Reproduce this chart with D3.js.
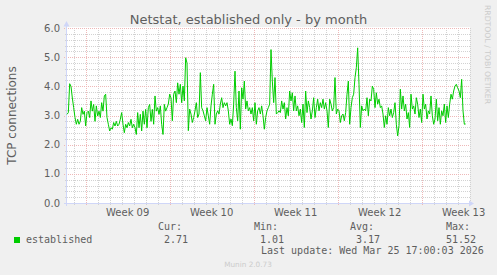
<!DOCTYPE html>
<html>
<head>
<meta charset="utf-8">
<script src="https://cdn.jsdelivr.net/npm/d3@7"></script>
<style>
  body { margin: 0; background: #f0f0f0; }
  svg { display: block; font-family: "DejaVu Sans", sans-serif; }
  .mono { font-family: "DejaVu Sans Mono", monospace; }
</style>
</head>
<body>
<script>
// ---- data (one sample every 160 min) ----
const established = [
  3.04, 3.10, 4.09, 4.00, 3.60, 3.27, 2.93, 2.70, 2.87, 2.70, 2.80, 3.27, 3.04, 3.15, 2.64, 3.10,
  3.15, 2.93, 3.50, 3.15, 3.38, 2.80, 3.33, 2.98, 3.15, 2.93, 3.44, 3.15, 3.67, 3.73, 2.93, 2.70,
  2.47, 2.58, 2.53, 2.76, 2.64, 2.80, 2.64, 2.70, 2.87, 3.10, 2.70, 2.41, 2.70, 2.58, 2.76, 2.64,
  2.87, 2.58, 2.70, 2.58, 2.35, 3.10, 2.58, 3.04, 2.47, 3.15, 2.70, 3.21, 2.58, 3.27, 3.38, 2.80,
  3.21, 2.70, 3.67, 3.15, 3.27, 3.04, 3.33, 2.70, 2.35, 3.38, 3.15, 3.27,
  3.39, 3.73, 3.60, 2.82, 3.73, 3.84, 3.44, 4.12, 3.73, 4.07, 3.44, 4.01, 3.50, 4.98, 4.80, 2.48,
  3.22, 3.05, 2.76, 2.93, 3.16, 3.44, 2.93, 3.05, 4.47, 3.27, 3.16, 2.99, 2.82, 3.27, 2.99, 2.70,
  3.33, 3.73, 4.07, 2.70, 3.05, 3.16, 3.05, 3.39, 3.61, 3.27, 3.44, 3.33, 3.44, 3.16, 2.70, 2.88,
  2.65, 3.39, 4.52, 3.27, 2.82, 3.84, 2.53, 3.95, 3.56, 4.18, 3.22, 3.50, 3.16, 3.27, 3.05, 3.27,
  2.82, 3.44, 2.70, 3.16, 3.27, 3.05, 3.33, 2.99, 2.53, 2.93, 3.16, 3.27,
  3.39, 5.26, 4.18, 3.44, 4.30, 3.05, 3.10, 3.16, 3.10, 3.50, 3.22, 3.44, 2.88, 3.27, 2.99, 3.84,
  3.50, 3.78, 3.16, 3.67, 3.16, 3.33, 2.99, 3.22, 2.76, 3.39, 2.59, 3.84, 3.10, 3.50, 3.27, 2.88,
  3.16, 3.61, 2.93, 3.27, 3.56, 3.16, 3.44, 3.27, 3.56, 3.22, 3.44, 3.16, 2.59, 3.56, 3.39, 3.16,
  3.27, 4.30, 3.05, 3.22, 3.16, 2.76, 2.99, 3.05, 2.82, 3.10, 3.73, 4.18, 2.70, 3.27, 3.61, 3.73,
  4.30, 4.64, 5.32, 4.07, 2.59, 3.33, 3.16, 3.22, 3.16, 3.61, 2.99,
  3.56, 3.50, 4.01, 3.90, 3.27, 3.78, 3.39, 3.56, 3.27, 3.33, 3.05, 2.59, 2.99, 2.70, 3.27, 2.99,
  3.22, 2.93, 3.10, 3.44, 2.70, 2.30, 2.65, 3.90, 3.22, 3.67, 3.16, 3.39, 2.88, 3.10, 2.59, 3.73,
  3.22, 3.33, 3.05, 3.61, 3.39, 2.93, 3.22, 2.76, 3.73, 3.22, 3.39, 2.88, 3.16, 3.05, 3.67, 2.99,
  2.70, 2.88, 3.56, 2.82, 3.27, 2.70, 3.16, 2.99, 3.39, 2.76, 3.33, 2.93, 3.39, 3.73, 3.56, 3.84,
  4.01, 4.07, 3.95, 3.84, 3.61, 4.24, 3.16, 2.70, 2.71
];
const yTicks = [0, 1, 2, 3, 4, 5, 6];
const legendHeads = ['Cur:', 'Min:', 'Avg:', 'Max:'];
const legendVals = ['2.71', '1.01', '3.17', '51.52'];
const title = 'Netstat, established only - by month';
const lastUpdate = 'Last update: Wed Mar 25 17:00:03 2026';

// ---- layout ----
const W = 497, H = 275;
const plot = { left: 67, right: 470, top: 28, bottom: 203 };
const DAY = 864e5;
const gStart = new Date(Date.UTC(2026, 1, 23) - (18.7 / 12) * DAY);
const gEnd = new Date(+gStart + ((plot.right - plot.left) / 12) * DAY);
const step = 160 * 60 * 1000;

const x = d3.scaleUtc().domain([gStart, gEnd]).range([plot.left, plot.right]);
const y = d3.scaleLinear().domain([0, 6]).range([plot.bottom, plot.top]);
const px = v => Math.round(v) + 0.5;

// munin colours: AXIS/ARROW #CFD6F8, FONT #666
const minorCol = '#d2d2d2', majorCol = '#eeb8b8', axisCol = '#cfd6f8', fontCol = '#5e5e5e';

const svg = d3.select('body').append('svg')
  .attr('width', W)
  .attr('height', H);

svg.append('rect').attr('width', W).attr('height', H).attr('fill', '#f0f0f0');
svg.append('rect')
  .attr('x', plot.left).attr('y', plot.top - 1)
  .attr('width', plot.right - plot.left).attr('height', plot.bottom - plot.top + 1)
  .attr('fill', '#fff');

const grid = svg.append('g').attr('shape-rendering', 'crispEdges');

// minor grid: days / 0.2 steps
const days = d3.utcDay.range(gStart, gEnd).filter(d => d.getUTCDay() !== 1);
grid.selectAll('line.vmin').data(days).join('line')
  .attr('x1', d => px(x(d))).attr('x2', d => px(x(d)))
  .attr('y1', plot.top).attr('y2', plot.bottom + 2)
  .attr('stroke', minorCol).attr('stroke-dasharray', '1,1');

const minorY = y.ticks(30).filter(v => Math.round(v * 5) % 5 !== 0);
grid.selectAll('line.hmin').data(minorY).join('line')
  .attr('x1', plot.left - 2).attr('x2', plot.right)
  .attr('y1', d => px(y(d))).attr('y2', d => px(y(d)))
  .attr('stroke', minorCol).attr('stroke-dasharray', '1,1');

// major grid: weeks / whole numbers
const weeks = d3.utcMonday.range(gStart, gEnd);
grid.selectAll('line.vmaj').data(weeks).join('line')
  .attr('x1', d => px(x(d))).attr('x2', d => px(x(d)))
  .attr('y1', plot.top).attr('y2', plot.bottom + 3)
  .attr('stroke', majorCol).attr('stroke-dasharray', '1,1');

grid.selectAll('line.hmaj').data(yTicks.slice(1)).join('line')
  .attr('x1', plot.left - 3).attr('x2', plot.right)
  .attr('y1', d => px(y(d))).attr('y2', d => px(y(d)))
  .attr('stroke', majorCol).attr('stroke-dasharray', '1,1');

// axes + arrows
grid.append('line')
  .attr('x1', plot.left - 0.5).attr('x2', plot.left - 0.5)
  .attr('y1', plot.bottom + 3).attr('y2', plot.top - 4)
  .attr('stroke', axisCol);
grid.append('line')
  .attr('x1', plot.left - 3).attr('x2', plot.right)
  .attr('y1', plot.bottom + 0.5).attr('y2', plot.bottom + 0.5)
  .attr('stroke', axisCol);
svg.append('path')
  .attr('d', `M${plot.left - 0.5},${plot.top - 7}L${plot.left - 3.5},${plot.top - 1.5}L${plot.left + 2.5},${plot.top - 1.5}Z`)
  .attr('fill', axisCol);
svg.append('path')
  .attr('d', `M${plot.right + 4},${plot.bottom + 0.5}L${plot.right - 1},${plot.bottom - 2.5}L${plot.right - 1},${plot.bottom + 3.5}Z`)
  .attr('fill', axisCol);

// ---- series ----
const line = d3.line()
  .x((d, i) => x(new Date(+gStart + i * step)))
  .y(d => y(d));

svg.append('path')
  .datum(established)
  .attr('d', line)
  .attr('fill', 'none')
  .attr('stroke', '#00cc00')
  .attr('stroke-width', 1)
  .attr('stroke-linejoin', 'round');

// ---- labels ----
svg.selectAll('text.ytick').data(yTicks).join('text')
  .attr('x', plot.left - 7)
  .attr('y', d => y(d) + 3.6)
  .attr('text-anchor', 'end')
  .attr('font-size', 10)
  .attr('fill', fontCol)
  .text(d3.format('.1f'));

const weekMid = weeks.concat([d3.utcMonday.floor(gStart)])
  .map(d => new Date(+d + 3.5 * DAY))
  .filter(d => d > gStart && d < gEnd);
svg.selectAll('text.xtick').data(weekMid).join('text')
  .attr('x', d => x(d))
  .attr('y', 215.5)
  .attr('text-anchor', 'middle')
  .attr('font-size', 10)
  .attr('fill', fontCol)
  .text(d => 'Week ' + d3.utcFormat('%V')(d));

svg.append('text')
  .attr('x', 248.5).attr('y', 24)
  .attr('text-anchor', 'middle')
  .attr('font-size', 13)
  .attr('fill', fontCol)
  .text(title);

svg.append('text')
  .attr('transform', `translate(15.5,${(plot.top + plot.bottom) / 2}) rotate(-90)`)
  .attr('text-anchor', 'middle')
  .attr('font-size', 12)
  .attr('fill', fontCol)
  .text('TCP connections');

svg.append('text')
  .attr('transform', 'translate(485,5) rotate(90)')
  .attr('font-size', 7.7)
  .attr('fill', '#cccccc')
  .text('RRDTOOL / TOBI OETIKER');

// ---- legend ----
svg.append('rect')
  .attr('x', 14).attr('y', 237).attr('width', 6).attr('height', 6)
  .attr('fill', '#00cc00');

const legend = svg.append('g').attr('class', 'mono').attr('font-size', 10).attr('fill', fontCol);
legend.append('text').attr('x', 26).attr('y', 242.7).text('established');
legend.selectAll('text.head').data(legendHeads).join('text')
  .attr('x', (d, i) => 182 + 96 * i).attr('y', 230)
  .attr('text-anchor', 'end')
  .text(d => d);
legend.selectAll('text.val').data(legendVals).join('text')
  .attr('x', (d, i) => 188 + 96 * i).attr('y', 242.7)
  .attr('text-anchor', 'end')
  .text(d => d);
legend.append('text').attr('x', 261).attr('y', 254.3).text(lastUpdate);

svg.append('text')
  .attr('x', 248).attr('y', 267)
  .attr('text-anchor', 'middle')
  .attr('font-size', 7.3)
  .attr('fill', '#cccccc')
  .text('Munin 2.0.73');
</script>
</body>
</html>
